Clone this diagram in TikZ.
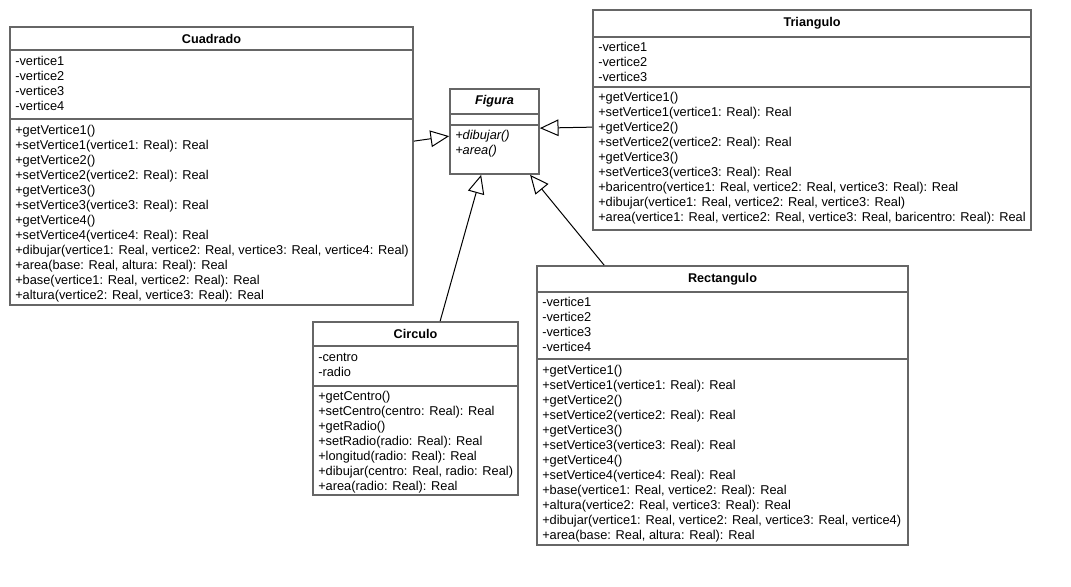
\documentclass[tikz,border=0pt]{standalone}
\usepackage{fontspec}
\setmainfont{Liberation Sans}
\usetikzlibrary{arrows.meta,calc,fit}
\definecolor{bordergray}{HTML}{666666}
\tikzset{
  classbox/.style={draw=bordergray, line width=1.3pt, inner sep=0pt, fill=white},
  sepline/.style={draw=bordergray, line width=1.3pt},
  ctitle/.style={font=\fontsize{9.5}{11.25}\selectfont\bfseries, inner sep=0pt},
  members/.style={font=\fontsize{9.6}{11.25}\selectfont, align=left, inner sep=0pt, anchor=base west},
  inherit/.style={draw=black, line width=0.75pt, -{Triangle[open, length=14pt, width=12.5pt]}},
}
\begin{document}
\begin{tikzpicture}[x=0.75pt, y=-0.75pt]
\useasboundingbox[fill=white] (0,0) rectangle (1071,586);

% Cuadrado
\node[classbox, fit={(10,27)(413,305)}] (cuad) {};
\draw[sepline] (10,50) -- (413,50);
\draw[sepline] (10,119) -- (413,119);
\node[ctitle] (cuad-t) at (211.5,38.5) {Cuadrado};
\node[members] (cuad-a) at (15,110) {-vertice1\\-vertice2\\-vertice3\\-vertice4};
\node[members] (cuad-m) at (15,299) {+getVertice1()\\+setVertice1(vertice1: Real): Real\\+getVertice2()\\+setVertice2(vertice2: Real): Real\\+getVertice3()\\+setVertice3(vertice3: Real): Real\\+getVertice4()\\+setVertice4(vertice4: Real): Real\\+dibujar(vertice1: Real, vertice2: Real, vertice3: Real, vertice4: Real)\\+area(base: Real, altura: Real): Real\\+base(vertice1: Real, vertice2: Real): Real\\+altura(vertice2: Real, vertice3: Real): Real};

% Figura
\node[classbox, fit={(450,89)(539,174)}] (fig) {};
\draw[sepline] (450,114) -- (539,114);
\draw[sepline] (450,125) -- (539,125);
\node[ctitle, font=\fontsize{9.5}{11.25}\selectfont\bfseries\itshape] (fig-t) at (494.5,101.5) {Figura};
\node[members, font=\fontsize{9.6}{11.25}\selectfont\itshape] (fig-m) at (455,154.5) {+dibujar()\\+area()};

% Triangulo
\node[classbox, fit={(593,10)(1031,230)}] (tri) {};
\draw[sepline] (593,37) -- (1031,37);
\draw[sepline] (593,87) -- (1031,87);
\node[ctitle] (tri-t) at (812,23.5) {Triangulo};
\node[members] (tri-a) at (598,81.5) {-vertice1\\-vertice2\\-vertice3};
\node[members] (tri-m) at (598,221.5) {+getVertice1()\\+setVertice1(vertice1: Real): Real\\+getVertice2()\\+setVertice2(vertice2: Real): Real\\+getVertice3()\\+setVertice3(vertice3: Real): Real\\+baricentro(vertice1: Real, vertice2: Real, vertice3: Real): Real\\+dibujar(vertice1: Real, vertice2: Real, vertice3: Real)\\+area(vertice1: Real, vertice2: Real, vertice3: Real, baricentro: Real): Real};

% Circulo
\node[classbox, fit={(313,322)(518,495)}] (circ) {};
\draw[sepline] (313,346) -- (518,346);
\draw[sepline] (313,386) -- (518,386);
\node[ctitle] (circ-t) at (415.5,334) {Circulo};
\node[members] (circ-a) at (318,376) {-centro\\-radio};
\node[members] (circ-m) at (318,490.5) {+getCentro()\\+setCentro(centro: Real): Real\\+getRadio()\\+setRadio(radio: Real): Real\\+longitud(radio: Real): Real\\+dibujar(centro: Real, radio: Real)\\+area(radio: Real): Real};

% Rectangulo
\node[classbox, fit={(537,266)(908,545)}] (rect) {};
\draw[sepline] (537,292) -- (908,292);
\draw[sepline] (537,359) -- (908,359);
\node[ctitle] (rect-t) at (722.5,279) {Rectangulo};
\node[members] (rect-a) at (542,351.5) {-vertice1\\-vertice2\\-vertice3\\-vertice4};
\node[members] (rect-m) at (542,539) {+getVertice1()\\+setVertice1(vertice1: Real): Real\\+getVertice2()\\+setVertice2(vertice2: Real): Real\\+getVertice3()\\+setVertice3(vertice3: Real): Real\\+getVertice4()\\+setVertice4(vertice4: Real): Real\\+base(vertice1: Real, vertice2: Real): Real\\+altura(vertice2: Real, vertice3: Real): Real\\+dibujar(vertice1: Real, vertice2: Real, vertice3: Real, vertice4)\\+area(base: Real, altura: Real): Real};

% Generalizations
\draw[inherit] ($(cuad.north east)+(0,115)$) -- ($(fig.north west)+(0,48)$);
\draw[inherit] ($(tri.north west)+(0,118)$) -- ($(fig.north east)+(0,40)$);
\draw[inherit] ($(circ.north west)+(128,0)$) -- ($(fig.south west)+(32,0)$);
\draw[inherit] ($(rect.north west)+(68,0)$) -- ($(fig.south west)+(81,0)$);
\end{tikzpicture}
\end{document}
